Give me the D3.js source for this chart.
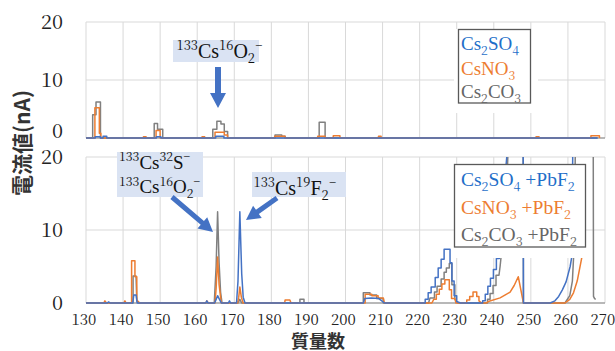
<!DOCTYPE html>
<html><head><meta charset="utf-8">
<script src="https://cdn.jsdelivr.net/npm/d3@7"></script>
<style>body{margin:0;background:#fff;} svg{display:block;}</style>
</head><body><svg id="c" width="615" height="351"></svg>
<script>
// ---------- data ----------
const xTicks = [130,140,150,160,170,180,190,200,210,220,230,240,250,260,270];
const yTicks = [0,10,20];
const xTitle = "質量数";
const yTitle = "電流値(nA)";

// top panel (without PbF2), step data [mass, value]
const topCs2SO4 = [[130,0],[132.5,0.2],[133.9,0],[134.6,0.3],[135.6,0],[149,0.2],[150.2,0],[165,0.3],[167.2,0],[268,0]];
const topCsNO3 = [[130,0],[132.4,5.2],[133.6,0.8],[134,0],[145.5,0.2],[146.2,0],[148.9,1.3],[150,0],[161.3,0.2],[162,0],
  [164.8,1.0],[167.3,0.5],[168.2,0],[180.9,0.3],[183.7,0],[192.5,0.3],[194.5,0],[196.7,0.4],[198.5,0],[208.9,0.3],[209.6,0],
  [251.4,0.2],[252.2,0],[266.2,0.4],[268.5,0]];
const topCs2CO3 = [[130,0],[131.8,4.0],[132.7,6.2],[133.9,0],[148.4,2.5],[149.3,1.5],[150.7,0],[164.2,1.5],[165.3,2.9],
  [166.4,2.4],[167.3,1.1],[168.2,0],[181,0.5],[182.8,0.3],[183.7,0],[192.9,2.7],[194.5,0],[268,0]];

// bottom panel (+PbF2), point data [mass, value]
const botCs2SO4 = [[130,0],[135.8,0],[136.1,0.15],[136.5,0],[142.6,0],[142.9,1.1],[143.5,1.1],[143.8,0],
  [162.3,0],[162.6,0.3],[162.9,0],[164.7,0],[165.1,0.5],[165.5,1.0],[165.9,0.6],[166.5,0],[168.4,0],[168.7,0.3],[169,0],
  [170.6,0],[171.0,3],[171.5,12.5],[172.0,4],[172.4,0.8],[172.9,0],
  [204.8,0],[205.2,0.6],[207,0.7],[209,0.6],[210.5,0],
  [221.5,0],[221.5,0.5],[222.3,0.5],[222.3,1.4],[223.1,1.4],[223.1,2.2],[224.2,2.2],[224.2,3.5],[225,3.5],[225,4.8],
  [225.8,4.8],[225.8,6.0],[226.6,6.0],[226.6,7.35],[228.2,7.35],[228.2,5.5],[228.7,5.5],[228.7,3],[229.3,3],[229.3,1],
  [230,1],[230,0.2],[231,0],
  [237,0],[237,0.3],[237.7,0.3],[237.7,1.2],[238.4,1.2],[238.4,2.3],[239.1,2.3],[239.1,3.4],[239.9,3.4],[239.9,4.6],
  [240.7,4.6],[240.7,6.1],[241.5,6.1],[241.7,9],[242.5,14],[243.5,20],[244.2,30],[247.9,30],[248.0,0],
  [255.2,0],[256.5,0.3],[257.5,0.9],[258.5,1.8],[259.5,2.9],[260.6,5],[261.0,6.2],[261.5,30]];
const botCsNO3 = [[130,0],[134.8,0],[135.1,0.3],[135.5,0],[140.2,0],[140.5,0.3],[140.8,0],[142.3,0],[142.3,5.8],
  [143.2,5.8],[143.2,3.6],[143.7,3.6],[143.7,0.4],[144.5,0],[162.3,0],[162.6,0.3],[163,0],
  [164.8,0],[165.1,2],[165.5,6.3],[165.9,2.5],[166.5,0],[170.9,0],[171.2,0.8],[171.5,2.2],[171.9,0.8],[172.4,0],
  [183.6,0],[183.7,0.4],[185,0.4],[185.3,0],
  [205.3,0],[205.3,1.2],[207.1,1.2],[207.1,1.0],[208.8,1.0],[208.8,0.7],[210.2,0.7],[210.5,0],
  [223.3,0],[223.8,0.5],[224.5,0.5],[224.5,1.2],[225.3,1.2],[225.3,1.9],[226,1.9],[226,2.6],[226.8,2.6],[226.8,3.2],
  [228,3.2],[228,1.8],[228.6,1.8],[228.6,0.6],[229.5,0.6],[229.8,0],
  [232.7,0],[232.7,0.4],[233.5,0.4],[233.5,0.9],[234.4,0.9],[234.4,1.5],[235.4,1.5],[235.4,0.9],[236,0.9],[236,0.3],[236.7,0],
  [238,0],[238.5,0.2],[241.7,0.7],[244.4,1.5],[245.5,2.4],[246.6,3.6],[248,0],
  [259.2,0],[260.5,0.5],[261.5,1.4],[262.5,3],[263.7,6.1],[264.3,9]];
const botCs2CO3 = [[130,0],[142.7,0],[142.7,3.7],[143.5,3.7],[143.7,0.3],[144.2,0],
  [164.6,0],[165.1,5],[165.5,12.5],[165.9,5.5],[166.3,1.5],[166.7,0],[171,0],[171.5,0.5],[172,0],
  [187.7,0],[187.7,0.5],[188.8,0.5],[188.8,0],
  [204.8,0],[204.8,1.4],[206.6,1.4],[206.6,1.1],[208.4,1.1],[208.4,0.6],[210.2,0.6],[210.2,0],
  [222.4,0],[222.8,0.7],[224,0.7],[224,1.5],[224.7,1.5],[224.7,2.3],[225.8,2.3],[225.8,3.3],[226.6,3.3],[226.6,4.2],
  [227.2,4.2],[227.2,4.8],[228,4.8],[228,5.4],[228.7,5.4],[228.7,2.5],[229.5,2.5],[229.5,0.5],[230.3,0],
  [238.3,0],[238.3,0.5],[239,0.5],[239,1.3],[239.8,1.3],[239.8,2.4],[240.6,2.4],[240.6,3.8],[241.4,3.8],[241.7,5],
  [242.3,8],[243.5,16],[244.5,30],[247.9,30],[248,0],
  [259.2,0],[260.5,1],[261.2,3],[261.7,8],[262.2,30],[266.8,30],[266.9,0.9],[267.2,0.6],[267.5,0.5]];

const legendTop = [
  [["Cs",""],["2","sub"],["SO",""],["4","sub"]],
  [["CsNO",""],["3","sub"]],
  [["Cs",""],["2","sub"],["CO",""],["3","sub"]]];
const legendBot = [
  [["Cs",""],["2","sub"],["SO",""],["4","sub"],[" +PbF",""],["2","sub"]],
  [["CsNO",""],["3","sub"],[" +PbF",""],["2","sub"]],
  [["Cs",""],["2","sub"],["CO",""],["3","sub"],[" +PbF",""],["2","sub"]]];
const labelTop = [["133","sup"],["Cs",""],["16","sup"],["O",""],["2","sub"],["\u2212","sup"]];
const labelBot1a = [["133","sup"],["Cs",""],["32","sup"],["S",""],["\u2212","sup"]];
const labelBot1b = [["133","sup"],["Cs",""],["16","sup"],["O",""],["2","sub"],["\u2212","sup"]];
const labelBot2 = [["133","sup"],["Cs",""],["19","sup"],["F",""],["2","sub"],["\u2212","sup"]];

// ---------- styles ----------
const lineColors = ["#4472c4","#ed7d31","#808080"];
const textColors = ["#1f6fc9","#ed7d31","#666666"];
const arrowColor = "#4472c4";
const labelFill = "#dae3f3";
const SERIF = '"Liberation Serif", "Noto Serif CJK JP"';
const DIGITS = '"Noto Serif CJK JP"';
const CJK = '"Noto Sans CJK JP"';

const svg = d3.select("#c");
const x = d3.scaleLinear().domain([130,270]).range([86,605]);
const yTop = d3.scaleLinear().domain([0,20]).range([138,22]);
const yBot = d3.scaleLinear().domain([0,20]).range([303,157]);

function rich(g, px, py, parts, size, color) {
  const t = g.append("text").attr("x",px).attr("y",py)
    .style("font-size",size+"px").attr("fill",color);
  let shift = 0;
  parts.forEach(([s,k]) => {
    const target = k==="sub" ? size*0.28 : k==="sup" ? -size*0.38 : 0;
    const fs = k ? size*0.65 : size;
    t.append("tspan").attr("dy", target-shift).style("font-size", fs+"px")
      .style("font-family", /^[0-9]+$/.test(s) ? DIGITS : SERIF).text(s);
    shift = target;
  });
  return t;
}
function arrow(g, x1,y1,x2,y2,w,hw,hl) {
  const dx=x2-x1, dy=y2-y1, L=Math.hypot(dx,dy), ux=dx/L, uy=dy/L, nx=-uy, ny=ux;
  const bx=x2-ux*hl, by=y2-uy*hl;
  const pts=[[x1+nx*w/2,y1+ny*w/2],[bx+nx*w/2,by+ny*w/2],[bx+nx*hw/2,by+ny*hw/2],[x2,y2],
    [bx-nx*hw/2,by-ny*hw/2],[bx-nx*w/2,by-ny*w/2],[x1-nx*w/2,y1-ny*w/2]];
  g.append("path").attr("d","M"+pts.map(p=>p.join(",")).join("L")+"Z").attr("fill",arrowColor);
}

function panel(y, series, curve, clipId, isTop) {
  const g = svg.append("g");
  g.selectAll(".vg").data(xTicks).join("line")
    .attr("x1",d=>x(d)).attr("x2",d=>x(d)).attr("y1",y(20)).attr("y2",y(0))
    .attr("stroke","#d9d9d9").attr("stroke-width",1);
  g.selectAll(".hg").data(yTicks.filter(v=>v>0)).join("line")
    .attr("x1",x(130)).attr("x2",x(270)).attr("y1",d=>y(d)).attr("y2",d=>y(d))
    .attr("stroke","#d9d9d9").attr("stroke-width",1);
  g.append("line").attr("x1",x(130)).attr("x2",x(270)).attr("y1",y(0)).attr("y2",y(0))
    .attr("stroke","#a0a0a0").attr("stroke-width",1.5);
  svg.append("clipPath").attr("id",clipId).append("rect")
    .attr("x",x(130)).attr("y",y(20)).attr("width",x(270)-x(130)).attr("height",y(0)-y(20)+2);
  const line = d3.line().x(d=>x(d[0])).y(d=>y(d[1])).curve(curve);
  const lg = g.append("g").attr("clip-path",`url(#${clipId})`);
  [2,1,0].forEach(i => {
    lg.append("path").attr("d",line(series[i])).attr("fill","none")
      .attr("stroke",lineColors[i]).attr("stroke-width",1.5).attr("stroke-linejoin","round");
  });
  g.selectAll(".yt").data(yTicks).join("text").style("font-family",DIGITS)
    .attr("x",63).attr("y",d=>y(d)).attr("dy",d=> (isTop && d===0) ? "0em" : "0.35em")
    .attr("text-anchor","end").style("font-size","20px").attr("fill","#222")
    .text(d=>d);
  return g;
}

panel(yTop, [topCs2SO4, topCsNO3, topCs2CO3], d3.curveStepAfter, "clipTop", true);
panel(yBot, [botCs2SO4, botCsNO3, botCs2CO3], d3.curveLinear, "clipBot", false);

// x tick labels
svg.selectAll(".xt").data(xTicks).join("text").style("font-family",DIGITS)
  .attr("x",d=>x(d)-2).attr("y",325).attr("text-anchor","middle")
  .style("font-size","15px").attr("fill","#222").text(d=>d);

// axis titles
svg.append("text").style("font-family",CJK).attr("x",318).attr("y",348).attr("text-anchor","middle")
  .style("font-weight","700").style("font-size","18px").attr("fill","#333").text(xTitle);
svg.append("text").style("font-family",CJK).attr("transform","translate(30,143) rotate(-90)").attr("text-anchor","middle")
  .style("font-weight","700").style("font-size","21px").attr("fill","#333").text(yTitle);

// legends
const lg1 = svg.append("g");
lg1.append("rect").attr("x",454).attr("y",29).attr("width",84).attr("height",84).attr("fill","#fff");
lg1.append("rect").attr("x",458.5).attr("y",29.5).attr("width",72).attr("height",73.5)
  .attr("fill","#fff").attr("stroke","#595959").attr("stroke-width",1.3);
[50,75,98].forEach((by,i)=> rich(lg1, 461, by, legendTop[i], 19, textColors[i]));

const lg2 = svg.append("g");
lg2.append("rect").attr("x",454).attr("y",164).attr("width",132).attr("height",94).attr("fill","#fff");
lg2.append("rect").attr("x",454.5).attr("y",164.5).attr("width",131).attr("height",82.5)
  .attr("fill","#fff").attr("stroke","#595959").attr("stroke-width",1.3);
[186,214,241].forEach((by,i)=> rich(lg2, 461, by, legendBot[i], 19.5, textColors[i]));

// annotations
const an = svg.append("g");
an.append("rect").attr("x",173).attr("y",40).attr("width",86).attr("height",22).attr("fill",labelFill);
rich(an, 176.5, 57.5, labelTop, 20, "#111");
arrow(an, 218, 67, 218, 108, 6, 16, 15);

an.append("rect").attr("x",117).attr("y",152).attr("width",86).attr("height",45).attr("fill",labelFill);
rich(an, 119, 168.5, labelBot1a, 19, "#111");
rich(an, 119, 193, labelBot1b, 19, "#111");
arrow(an, 172, 197, 213, 232, 5, 15, 14);

an.append("rect").attr("x",252).attr("y",172).attr("width",94).attr("height",25).attr("fill",labelFill);
rich(an, 253.5, 194.5, labelBot2, 20, "#111");
arrow(an, 277, 198, 246, 220, 5, 15, 14);
</script></body></html>
